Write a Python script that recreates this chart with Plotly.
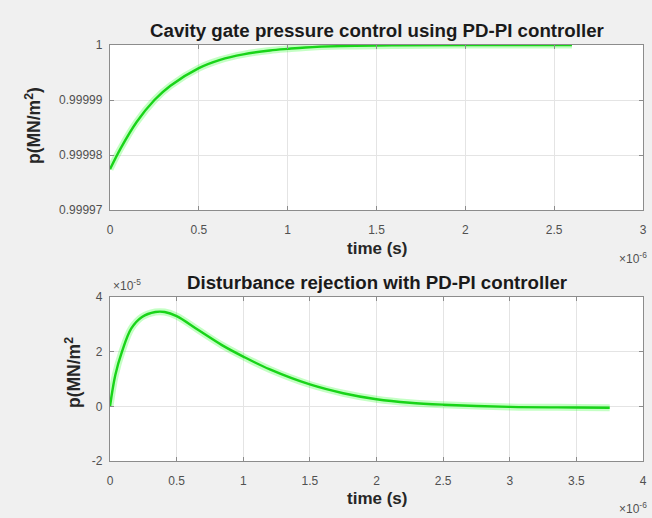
import plotly.graph_objects as go
from plotly.subplots import make_subplots

# Top subplot: gate pressure (time in units of 1e-6 s)
t_top = [0, 0.06, 0.15, 0.25, 0.34, 0.5, 0.62, 0.75, 0.9, 1.0, 1.1, 1.3, 1.6, 2.0, 2.6]
p_top = [0.9999774, 0.9999812, 0.999986, 0.99999, 0.9999926, 0.9999958, 0.9999973,
         0.9999983, 0.999999, 0.9999993, 0.99999955, 0.9999998, 0.99999993, 0.99999998, 1.0]

# Bottom subplot: disturbance response (time 1e-6 s, pressure 1e-5)
t_bot = [0, 0.04, 0.09, 0.16, 0.24, 0.34, 0.41, 0.5, 0.66, 0.84, 1.0, 1.2, 1.5, 1.75,
         2.0, 2.25, 2.5, 3.0, 3.5, 3.75]
p_bot = [0, 1.15, 2.0, 2.85, 3.27, 3.45, 3.45, 3.3, 2.8, 2.24, 1.82, 1.35, 0.8, 0.48,
         0.26, 0.13, 0.06, -0.02, -0.04, -0.05]

top_xticks = [0, 0.5, 1, 1.5, 2, 2.5, 3]
top_xlabels = ["0", "0.5", "1", "1.5", "2", "2.5", "3"]
top_yticks = [0.99997, 0.99998, 0.99999, 1.0]
top_ylabels = ["0.99997", "0.99998", "0.99999", "1"]
bot_xticks = [0, 0.5, 1, 1.5, 2, 2.5, 3, 3.5, 4]
bot_xlabels = ["0", "0.5", "1", "1.5", "2", "2.5", "3", "3.5", "4"]
bot_yticks = [-2, 0, 2, 4]
bot_ylabels = ["-2", "0", "2", "4"]

W, H = 652, 518
ML, MR, MT, MB = 110, 9, 45, 57
ph = H - MT - MB

def fy(py):
    return (H - MB - py) / ph

def fx(px):
    return (px - ML) / (W - ML - MR)

fig = make_subplots(rows=2, cols=1)

green = "#18d418"
glow = "rgba(60,255,60,0.30)"
for (tx, py, r) in [(t_top, p_top, 1), (t_bot, p_bot, 2)]:
    fig.add_trace(go.Scatter(x=tx, y=py, mode="lines", line=dict(color=glow, width=7, shape="spline"),
                             showlegend=False, hoverinfo="skip"), row=r, col=1)
    fig.add_trace(go.Scatter(x=tx, y=py, mode="lines", line=dict(color=green, width=2.4, shape="spline"),
                             showlegend=False), row=r, col=1)

tickfont = dict(family="Liberation Sans, Arial", size=12, color="#505050")
axcommon = dict(showgrid=True, gridcolor="#e4e4e4", gridwidth=1, zeroline=False,
                showline=True, linecolor="#8c8c8c", linewidth=1.3, mirror="ticks",
                ticks="inside", ticklen=4, tickcolor="#8c8c8c", tickfont=tickfont,
                automargin=False)

fig.update_xaxes(**axcommon)
fig.update_yaxes(**axcommon)

fig.update_layout(
    xaxis=dict(domain=[0, 1], range=[0, 3], tickvals=top_xticks, ticktext=top_xlabels,
               ticklabelstandoff=8),
    yaxis=dict(domain=[fy(210), fy(45)], range=[0.99997, 1.0], tickvals=top_yticks,
               ticktext=top_ylabels, ticklabelstandoff=4),
    xaxis2=dict(domain=[0, 1], range=[0, 4], tickvals=bot_xticks, ticktext=bot_xlabels,
                ticklabelstandoff=8),
    yaxis2=dict(domain=[fy(461), fy(297)], range=[-2, 4], tickvals=bot_yticks,
                ticktext=bot_ylabels, ticklabelstandoff=4),
)

titlefont = dict(family="Liberation Sans, Arial", size=18.7, color="#1a1a1a", weight="bold")
labfont = dict(family="Liberation Sans, Arial", size=17, color="#262626", weight="bold")
ylabfont = dict(family="Liberation Sans, Arial", size=17.5, color="#262626", weight="bold")
smallfont = dict(family="Liberation Sans, Arial", size=12, color="#505050")

ann = [
    dict(text="Cavity gate pressure control using PD-PI controller", x=0.5, y=fy(30),
         font=titlefont),
    dict(text="Disturbance rejection with PD-PI controller", x=0.5, y=fy(282), font=titlefont),
    dict(text="time (s)", x=0.5, y=fy(248), font=labfont),
    dict(text="time (s)", x=0.5, y=fy(498), font=labfont),
    dict(text="p(MN/m<sup>2</sup>)", x=fx(33), y=fy(126), font=ylabfont, textangle=-90),
    dict(text="p(MN/m<sup>2</sup>", x=fx(73), y=fy(373), font=ylabfont, textangle=-90),
    dict(text="×10<sup>-6</sup>", x=fx(633), y=fy(258), font=smallfont),
    dict(text="×10<sup>-6</sup>", x=fx(633), y=fy(508), font=smallfont),
    dict(text="×10<sup>-5</sup>", x=fx(127), y=fy(285), font=smallfont),
]
for a in ann:
    a.update(xref="paper", yref="paper", showarrow=False, xanchor="center", yanchor="middle")

fig.update_layout(
    annotations=ann,
    width=W, height=H,
    margin=dict(l=ML, r=MR, t=MT, b=MB),
    paper_bgcolor="#f0f0f0",
    plot_bgcolor="#ffffff",
    font=dict(family="Liberation Sans, Arial"),
)

fig.write_html(
    "out.html",
    config={"displayModeBar": False},
    post_script="document.body.style.margin='0';document.body.style.overflow='hidden';"
                "document.body.style.background='#f0f0f0';",
)
